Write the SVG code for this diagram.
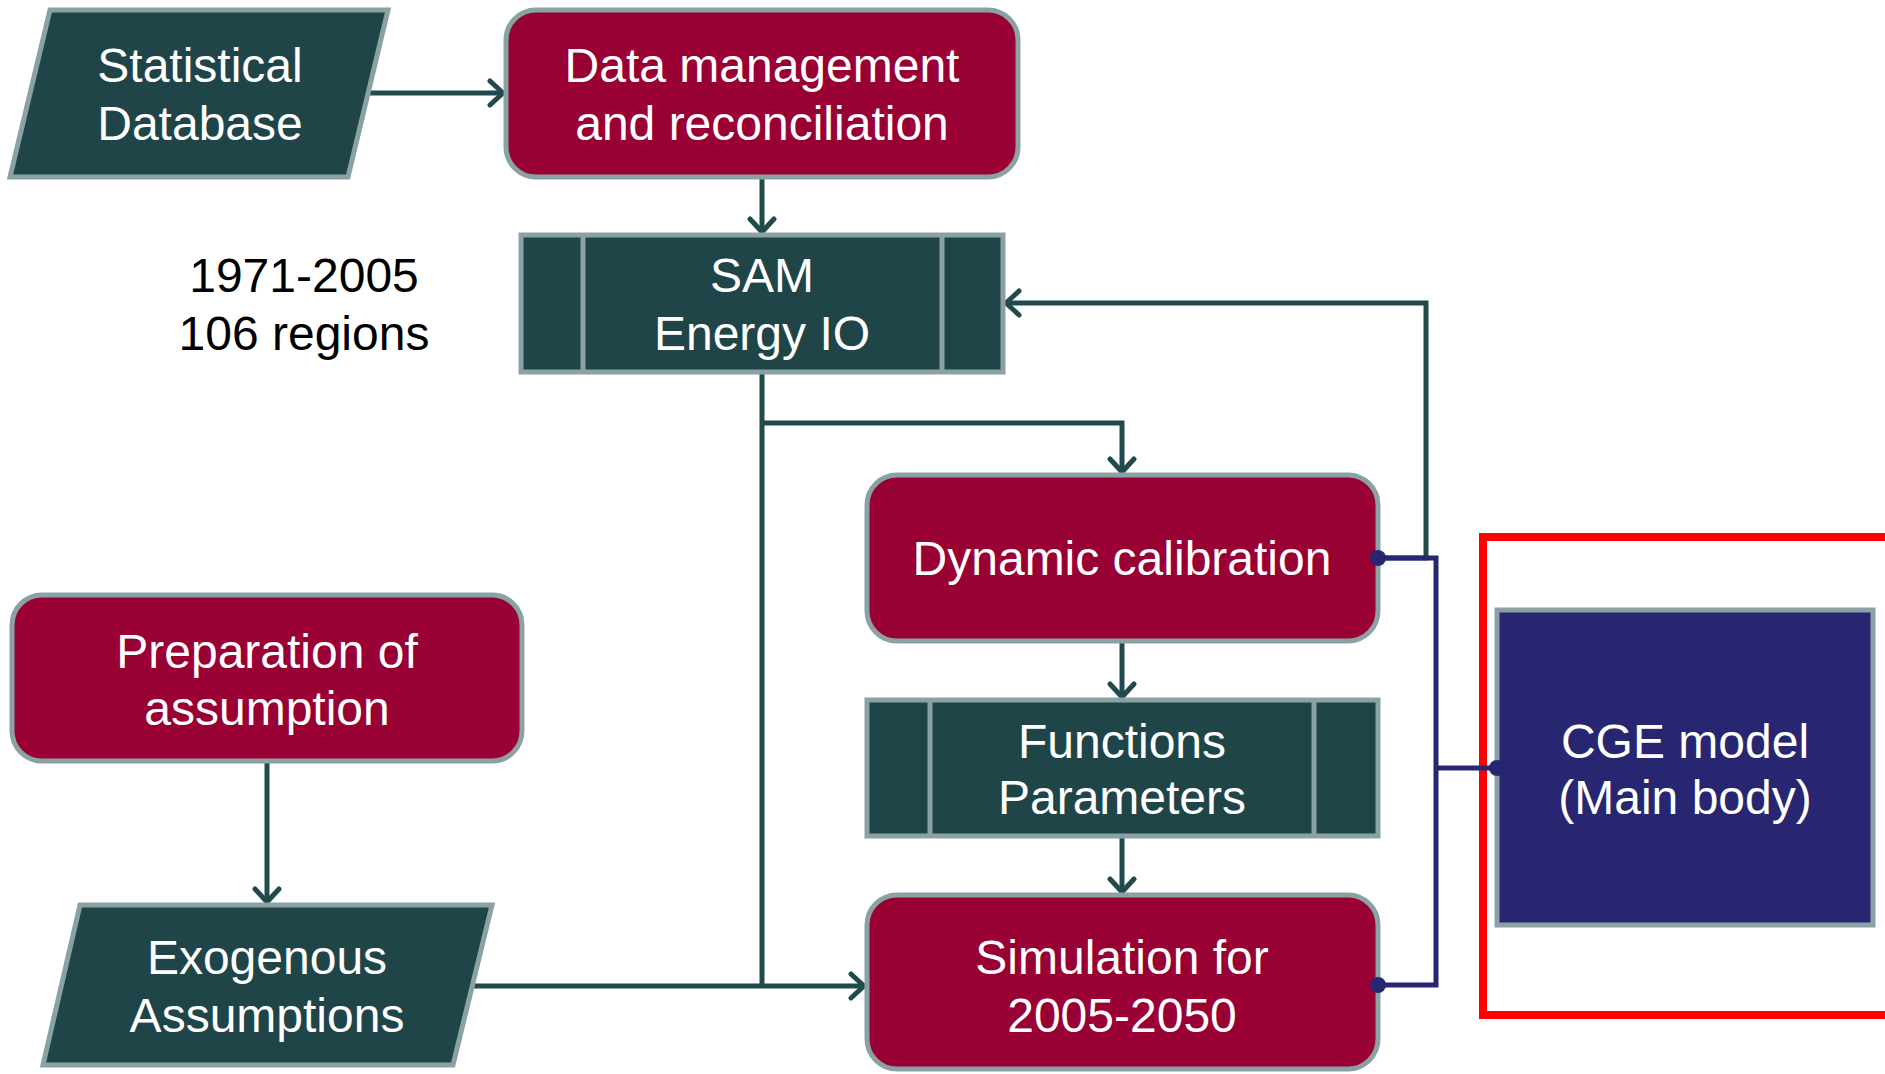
<svg xmlns="http://www.w3.org/2000/svg" width="1885" height="1074" viewBox="0 0 1885 1074">
<style>
.proc{fill:#990033;stroke:#8aa2a3;stroke-width:5}
.data{fill:#204548;stroke:#8aa2a3;stroke-width:5}
.cge{fill:#282671;stroke:#8aa2a3;stroke-width:5}
.bar{stroke:#8aa2a3;stroke-width:5}
.t{font-family:"Liberation Sans",Arial,sans-serif;font-size:48px;fill:#ffffff;text-anchor:middle}
.k{fill:#000000}
.c{fill:none;stroke:#204a4c;stroke-width:5}
.b{fill:none;stroke:#282671;stroke-width:5}
.dot{fill:#282671}
</style>
<defs>
<marker id="arr" viewBox="-16 -15 20 30" refX="0" refY="0" markerWidth="20" markerHeight="30" markerUnits="userSpaceOnUse" orient="auto">
<path d="M-13,-12 L0,0 L-13,12" fill="none" stroke="#204a4c" stroke-width="5" stroke-linecap="round" stroke-linejoin="round"/>
</marker>
</defs>
<rect x="1483" y="537" width="420" height="478" fill="none" stroke="#ff0000" stroke-width="8"/>
<g id="connectors">
<path class="c" d="M368,93 L503,93" marker-end="url(#arr)"/>
<path class="c" d="M762,177 L762,232" marker-end="url(#arr)"/>
<path class="c" d="M762,372 L762,986"/>
<path class="c" d="M762,423 L1122,423 L1122,472" marker-end="url(#arr)"/>
<path class="c" d="M1122,641 L1122,697" marker-end="url(#arr)"/>
<path class="c" d="M1122,836 L1122,892" marker-end="url(#arr)"/>
<path class="c" d="M267,762 L267,902" marker-end="url(#arr)"/>
<path class="c" d="M473,986 L864,986" marker-end="url(#arr)"/>
<path class="c" d="M1378,558 L1426,558 L1426,303 L1006,303" marker-end="url(#arr)"/>
<path class="b" d="M1378,558 L1436,558 L1436,985 L1378,985"/>
<path class="b" d="M1436,768 L1497,768"/>
</g>
<g id="statistical-database">
<polygon class="data" points="50,10 388,10 348,177 10,177"/>
<text class="t" x="200" y="82">Statistical</text>
<text class="t" x="200" y="140">Database</text>
</g>
<g id="data-management">
<rect class="proc" x="506" y="10" width="512" height="167" rx="30"/>
<text class="t" x="762" y="82">Data management</text>
<text class="t" x="762" y="140">and reconciliation</text>
</g>
<g id="sam">
<rect class="data" x="521" y="235" width="482" height="137"/>
<line class="bar" x1="583" y1="235" x2="583" y2="372"/>
<line class="bar" x1="942" y1="235" x2="942" y2="372"/>
<text class="t" x="762" y="292">SAM</text>
<text class="t" x="762" y="350">Energy IO</text>
</g>
<g id="years-label">
<text class="t k" x="304" y="292">1971-2005</text>
<text class="t k" x="304" y="350">106 regions</text>
</g>
<g id="dynamic-calibration">
<rect class="proc" x="867" y="475" width="511" height="166" rx="30"/>
<text class="t" x="1122" y="575">Dynamic calibration</text>
</g>
<g id="functions-parameters">
<rect class="data" x="867" y="700" width="511" height="136"/>
<line class="bar" x1="930" y1="700" x2="930" y2="836"/>
<line class="bar" x1="1314" y1="700" x2="1314" y2="836"/>
<text class="t" x="1122" y="758">Functions</text>
<text class="t" x="1122" y="814">Parameters</text>
</g>
<g id="simulation">
<rect class="proc" x="867" y="895" width="511" height="174" rx="30"/>
<text class="t" x="1122" y="974">Simulation for</text>
<text class="t" x="1122" y="1032">2005-2050</text>
</g>
<g id="preparation">
<rect class="proc" x="12" y="595" width="510" height="166" rx="30"/>
<text class="t" x="267" y="668">Preparation of</text>
<text class="t" x="267" y="725">assumption</text>
</g>
<g id="exogenous">
<polygon class="data" points="80,905 492,905 453,1065 43,1065"/>
<text class="t" x="267" y="974">Exogenous</text>
<text class="t" x="267" y="1032">Assumptions</text>
</g>
<g id="cge-model">
<rect class="cge" x="1497" y="610" width="376" height="315"/>
<text class="t" x="1685" y="758">CGE model</text>
<text class="t" x="1685" y="814">(Main body)</text>
</g>
<g id="dots">
<circle class="dot" cx="1378" cy="558" r="8"/>
<circle class="dot" cx="1378" cy="985" r="8"/>
<circle class="dot" cx="1497" cy="768" r="8"/>
</g>
</svg>
